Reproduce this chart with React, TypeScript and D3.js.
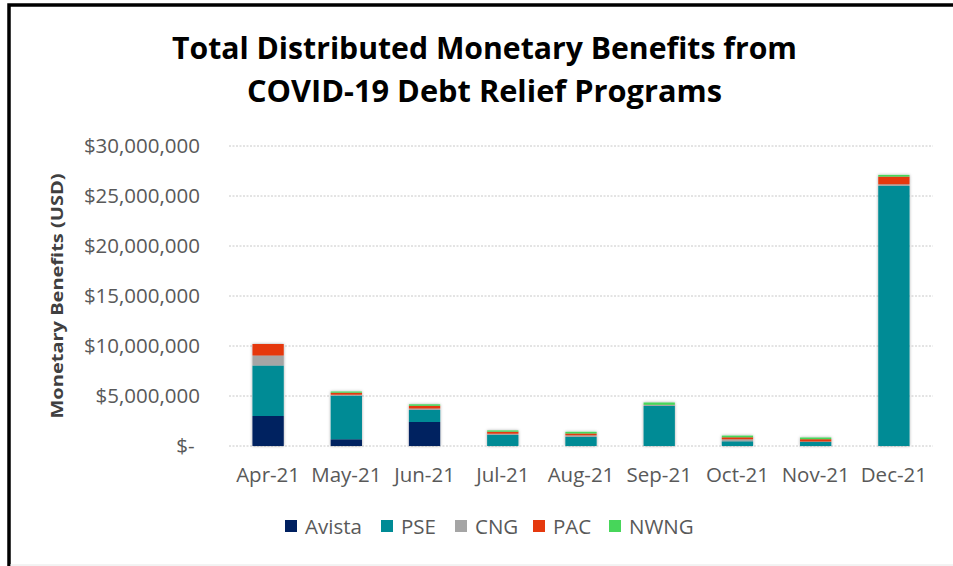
import React from "react";
import * as d3 from "d3";

const months = ["Apr-21", "May-21", "Jun-21", "Jul-21", "Aug-21", "Sep-21", "Oct-21", "Nov-21", "Dec-21"];
const seriesNames = ["Avista", "PSE", "CNG", "PAC", "NWNG"];
const avista = [3000000, 670000, 2400000, 0, 0, 0, 0, 0, 0];
const pse = [5050000, 4360000, 1200000, 1100000, 900000, 4000000, 470000, 420000, 26000000];
const cng = [1000000, 100000, 150000, 130000, 170000, 100000, 200000, 30000, 170000];
const pac = [1150000, 200000, 270000, 200000, 180000, 20000, 200000, 230000, 770000];
const nwng = [0, 120000, 150000, 130000, 170000, 230000, 170000, 170000, 170000];
const yTicks = [0, 5000000, 10000000, 15000000, 20000000, 25000000, 30000000];
const colors = ["#002060", "#008B95", "#A5A5A5", "#E5390E", "#47D65A"];

const W = 953;
const H = 566;

export default function App() {
  const rows = months.map((m, i) => ({
    month: m,
    Avista: avista[i],
    PSE: pse[i],
    CNG: cng[i],
    PAC: pac[i],
    NWNG: nwng[i],
  }));
  const stacked = d3.stack<any>().keys(seriesNames)(rows);

  const x = d3.scaleBand<string>().domain(months).range([229, 933]).paddingInner(0.6).paddingOuter(0.3);
  const y = d3.scaleLinear().domain([0, 30000000]).range([446, 146]);
  const fmt = (v: number) => (v === 0 ? "$-\u00A0" : "$" + d3.format(",")(v));

  const font = "'Open Sans', 'Liberation Sans', sans-serif";
  const legendX = [285, 381, 455, 533, 609];

  return (
    <svg width={W} height={H} style={{ position: "absolute", left: 0, top: 0, background: "#fff" }}>
      <defs>
        <filter id="sh" x="-30%" y="-10%" width="160%" height="120%">
          <feDropShadow dx="0" dy="0" stdDeviation="1.6" floodColor="#000" floodOpacity="0.35" />
        </filter>
      </defs>
      <rect x={0} y={0} width={W} height={H} fill="#fff" />
      <path d={`M9,${H} V5 H${W}`} fill="none" stroke="#000" strokeWidth={3.5} />
      <line x1={10} x2={W} y1={H - 1} y2={H - 1} stroke="#e6e6e6" strokeWidth={1} />

      <text x={484.5} y={59} textAnchor="middle" fontFamily={font} fontWeight={700} fontSize={30}
        fill="#000" textLength={625} lengthAdjust="spacingAndGlyphs">
        Total Distributed Monetary Benefits from
      </text>
      <text x={484.5} y={102} textAnchor="middle" fontFamily={font} fontWeight={700} fontSize={30}
        fill="#000" textLength={475} lengthAdjust="spacingAndGlyphs">
        COVID-19 Debt Relief Programs
      </text>

      {yTicks.map((t) => (
        <g key={t}>
          <line x1={229} x2={933} y1={y(t)} y2={y(t)} stroke="#c8c8c8" strokeWidth={1} strokeDasharray="2,1.5" />
          <text x={200} y={y(t)} dy="0.36em" textAnchor="end" fontFamily={font} fontSize={20.5} fill="#595959">
            {fmt(t)}
          </text>
        </g>
      ))}

      <text transform={`translate(63,296) rotate(-90)`} textAnchor="middle" fontFamily={font} fontWeight={700}
        fontSize={16} fill="#404040" textLength={245} lengthAdjust="spacingAndGlyphs">
        Monetary Benefits (USD)
      </text>

      <g filter="url(#sh)">
        {stacked.map((s, si) =>
          s.map((d, i) => {
            const h = y(d[0]) - y(d[1]);
            if (h <= 0) return null;
            return (
              <rect key={`${si}-${i}`} x={x(months[i])} y={y(d[1])} width={x.bandwidth()} height={h}
                fill={colors[si]} />
            );
          })
        )}
      </g>

      {months.map((m) => (
        <text key={m} x={(x(m) as number) + x.bandwidth() / 2} y={482} textAnchor="middle" fontFamily={font}
          fontSize={20.5} fill="#595959">
          {m}
        </text>
      ))}

      {seriesNames.map((n, i) => (
        <g key={n}>
          <rect x={legendX[i]} y={520} width={12} height={12} fill={colors[i]} />
          <text x={legendX[i] + 20} y={534} fontFamily={font} fontSize={20.5} fill="#595959">
            {n}
          </text>
        </g>
      ))}
    </svg>
  );
}
